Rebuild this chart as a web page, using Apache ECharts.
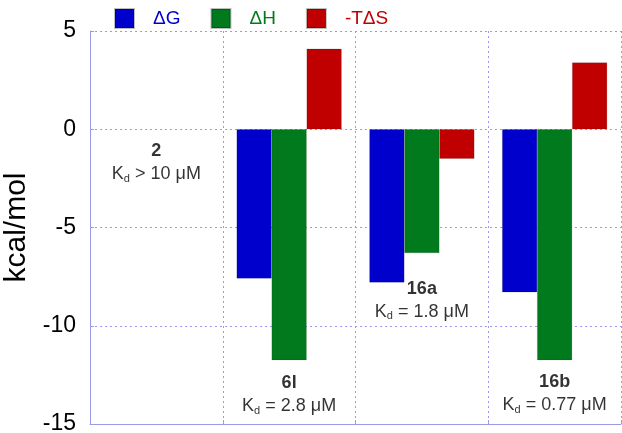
<!DOCTYPE html>
<html lang="en">
<head>
    <meta charset="UTF-8">
    <title>Binding thermodynamics</title>
    <script src="https://cdn.jsdelivr.net/npm/echarts@6/dist/echarts.min.js"></script>
    <style>
        body { margin: 0; background: #fff; }
        #main { width: 622px; height: 433px; }
    </style>
</head>
<body>
    <div id="main"></div>
    <script>
        var compounds = ['2', '6l', '16a', '16b'];
        var kdText = ['> 10 μM', '= 2.8 μM', '= 1.8 μM', '= 0.77 μM'];
        // where each compound label sits, in kcal/mol
        var labelAt = [-1.7, -13.5, -8.7, -13.45];

        var dG = [null, -7.6, -7.8, -8.3];
        var dH = [null, -11.75, -6.3, -11.75];
        var mTdS = [null, 4.1, -1.5, 3.4];

        var grid = '#9a9ae8';
        var myChart = echarts.init(document.getElementById('main'));

        function barSeries(name, color, values) {
            return {
                name: name,
                type: 'bar',
                barWidth: 35,
                barGap: '0%',
                itemStyle: { color: color, borderColor: 'rgba(0,0,0,0.25)', borderWidth: 0.5 },
                data: values
            };
        }

        var labelData = [];
        for (var i = 0; i < compounds.length; i++) {
            labelData.push({ value: [compounds[i], labelAt[i]], kd: kdText[i] });
        }

        var option = {
            animation: false,
            textStyle: { fontFamily: 'Liberation Sans, Arial, sans-serif' },
            legend: {
                left: 109,
                top: 3,
                itemWidth: 19,
                itemHeight: 19,
                itemGap: 30,
                icon: 'rect',
                data: ['ΔG', 'ΔH', '-TΔS'],
                formatter: function (n) {
                    var k = n === 'ΔG' ? 'g' : (n === 'ΔH' ? 'h' : 's');
                    return '{' + k + '|' + n + '}';
                },
                textStyle: {
                    fontSize: 19,
                    padding: [0, 0, 0, 14],
                    rich: {
                        g: { color: '#0000cc', fontSize: 19 },
                        h: { color: '#007a1c', fontSize: 19 },
                        s: { color: '#c00000', fontSize: 19 }
                    }
                }
            },
            grid: { left: 90, right: 1, top: 31, bottom: 9, outerBoundsMode: 'none', containLabel: false },
            xAxis: {
                type: 'category',
                data: compounds,
                position: 'bottom',
                axisLine: { onZero: false, lineStyle: { color: grid } },
                axisTick: { show: true, inside: true, length: 4, lineStyle: { color: grid } },
                axisLabel: { show: false },
                splitLine: { show: true, lineStyle: { color: grid, type: [2, 3] } }
            },
            yAxis: {
                type: 'value',
                min: -15,
                max: 5,
                interval: 5,
                name: 'kcal/mol',
                nameLocation: 'middle',
                nameGap: 46,
                nameTextStyle: { fontSize: 30, color: '#000' },
                axisLine: { show: true, lineStyle: { color: grid } },
                axisTick: { show: true, inside: true, length: 4, lineStyle: { color: grid } },
                axisLabel: { fontSize: 23, color: '#000', margin: 14 },
                splitLine: { lineStyle: { color: grid, type: [2, 3] } }
            },
            series: [
                barSeries('ΔG', '#0000cc', dG),
                barSeries('ΔH', '#007a1c', dH),
                barSeries('-TΔS', '#c00000', mTdS),
                {
                    type: 'scatter',
                    symbolSize: 0,
                    silent: true,
                    data: labelData,
                    label: {
                        show: true,
                        position: 'inside',
                        color: '#000',
                        align: 'center',
                        lineHeight: 23,
                        formatter: function (p) {
                            return '{b|' + p.value[0] + '}\n{k|K}{d|d}{k| ' + p.data.kd + '}';
                        },
                        rich: {
                            b: { fontSize: 18, fontWeight: 'bold', color: '#000', lineHeight: 23 },
                            k: { fontSize: 18, color: '#000', lineHeight: 23 },
                            d: { fontSize: 11, color: '#000', lineHeight: 23, padding: [9, 0, 0, 0] }
                        }
                    }
                }
            ]
        };

        myChart.setOption(option);
    </script>
</body>
</html>
